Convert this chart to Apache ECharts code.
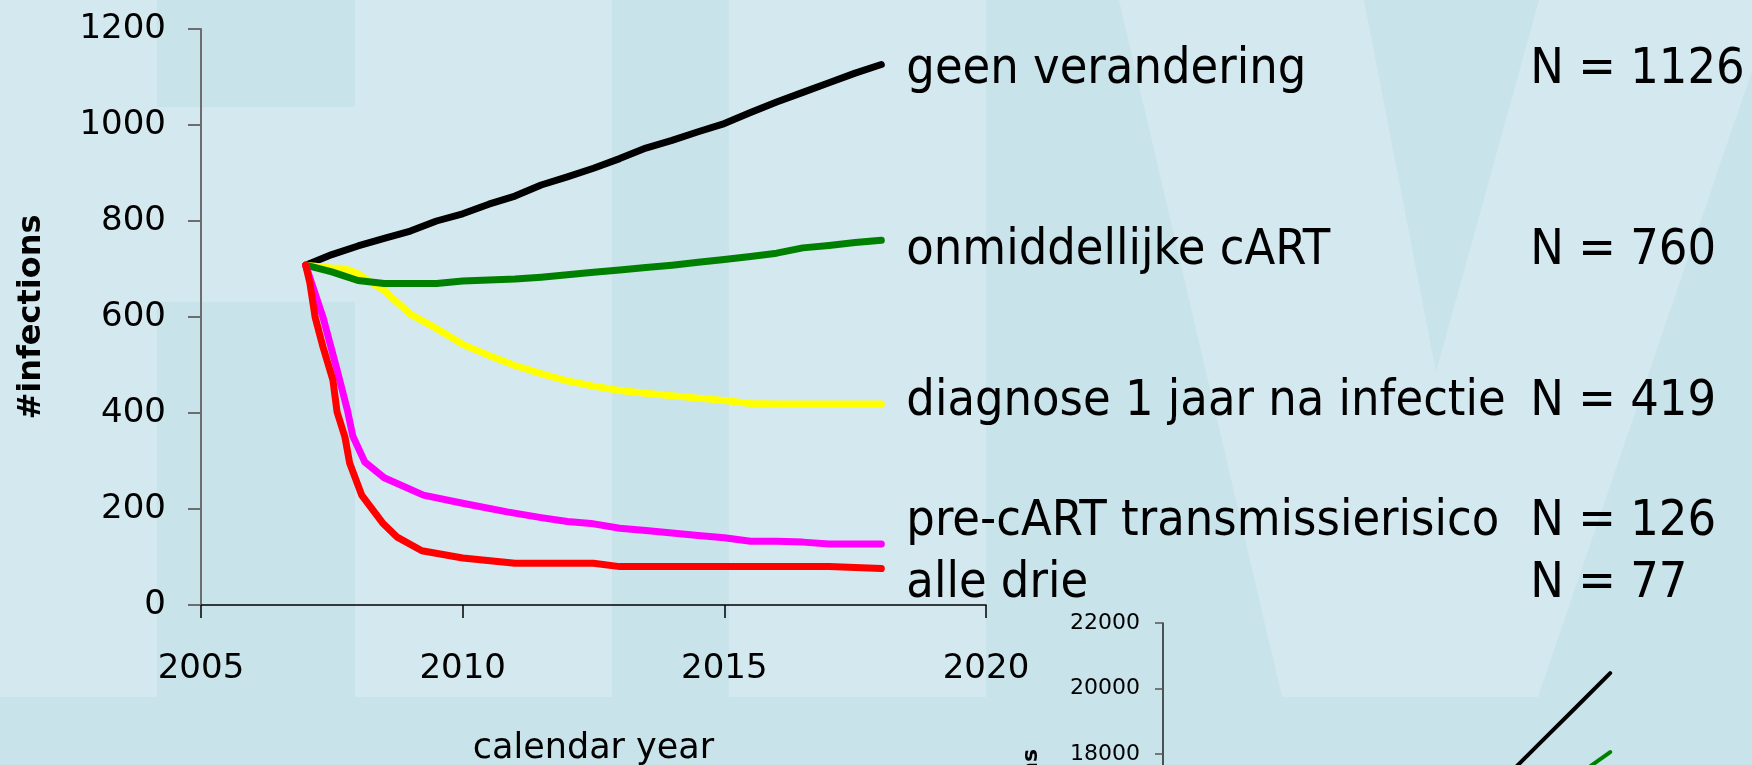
<!DOCTYPE html>
<html>
<head>
<meta charset="utf-8">
<title>#infections scenarios</title>
<script src="https://cdn.jsdelivr.net/npm/echarts@6/dist/echarts.min.js"></script>
<style>
  html, body { margin: 0; padding: 0; }
  #chart { width: 1752px; height: 765px; }
</style>
</head>
<body>
<div id="chart"></div>
<script>
// yearly new infections per scenario, [calendar year, #infections]
const geenVerandering = [[2007, 708], [2007.5, 730], [2008, 748], [2008.5, 764], [2009, 779], [2009.5, 800], [2010, 815],
  [2010.5, 835], [2011, 852], [2011.5, 875], [2012, 892], [2012.5, 910], [2013, 930], [2013.5, 952], [2014, 968],
  [2014.5, 986], [2015, 1003], [2015.5, 1026], [2016, 1048], [2016.5, 1068], [2017, 1088], [2017.5, 1108], [2018, 1126]]
const onmiddellijkeCart = [[2007, 708], [2007.5, 694], [2008, 676], [2008.5, 670], [2009, 670], [2009.5, 670], [2010, 675],
  [2010.5, 677], [2011, 679], [2011.5, 683], [2012, 688], [2012.5, 693], [2013, 698], [2013.5, 703], [2014, 708],
  [2014.5, 714], [2015, 720], [2015.5, 726], [2016, 733], [2016.5, 744], [2017, 749], [2017.5, 755], [2018, 760]]
const diagnoseEenJaar = [[2007, 708], [2007.5, 702], [2007.75, 701], [2008, 690], [2008.5, 655], [2009, 606], [2009.5, 576],
  [2010, 543], [2010.5, 520], [2011, 499], [2011.5, 482], [2012, 467], [2012.5, 456], [2013, 447], [2013.5, 441],
  [2014, 436], [2014.5, 431], [2015, 426], [2015.5, 420], [2016, 419], [2017, 419], [2018, 419]]
const preCartRisico = [[2007, 708], [2007.33, 600], [2007.6, 490], [2007.8, 405], [2007.9, 352], [2008.13, 298], [2008.5, 265],
  [2009.25, 229], [2010, 212], [2010.85, 194], [2011.5, 182], [2012, 174], [2012.45, 170], [2013, 160], [2013.5, 155],
  [2014, 150], [2014.5, 145], [2015, 140], [2015.5, 133], [2016, 133], [2016.5, 131], [2017, 127], [2018, 127]]
const alleDrie = [[2007, 708], [2007.08, 671], [2007.18, 600], [2007.33, 538], [2007.52, 469], [2007.6, 402], [2007.75, 350],
  [2007.84, 296], [2008.07, 229], [2008.47, 171], [2008.74, 142], [2009.22, 113], [2010, 98], [2011, 87], [2012, 87],
  [2012.5, 87], [2013, 80], [2014, 80], [2015, 80], [2016, 80], [2017, 80], [2018, 76]]

const scenarioNames = ['geen verandering', 'onmiddellijke cART', 'diagnose 1 jaar na infectie',
  'pre-cART transmissierisico', 'alle drie']
const finalN = [1126, 760, 419, 126, 77]

// cumulative infections (small panel, bottom right)
const cumGeenVerandering = [[2014, 16290], [2015, 17330], [2016, 18380], [2017, 19420], [2018, 20470]]
const cumOnmiddellijk = [[2015, 15800], [2016, 16560], [2017, 17310], [2018, 18060]]

const yearTicks = [2005, 2020, 5]
const infectionTicks = [0, 1200, 200]
const cumTicks = [10000, 22000, 2000]

const chart = echarts.init(document.getElementById('chart'))

const light = '#d4e8ef'
const dark = '#c9e3ea'
const tickFont = 'DejaVu Sans'
const noteFont = 'DejaVu Sans Condensed'
const plain = v => String(v)

const scenarioData = [geenVerandering, onmiddellijkeCart, diagnoseEenJaar, preCartRisico, alleDrie]
const colors = ['#000000', '#008000', '#ffff00', '#ff00ff', '#ff0000']
const labelShift = [5, 11, -2, -22, 15]
const drawOrder = [0, 2, 1, 3, 4]

const mainSeries = drawOrder.map(i => ({
  name: scenarioNames[i],
  type: 'line',
  xAxisIndex: 0,
  yAxisIndex: 0,
  data: scenarioData[i],
  showSymbol: false,
  symbol: 'none',
  lineStyle: {color: colors[i], width: 7, cap: 'round', join: 'round'},
  endLabel: {
    show: true,
    distance: 25,
    offset: [0, labelShift[i]],
    formatter: `{a|${scenarioNames[i]}}{b|N = ${finalN[i]}}`,
    rich: {
      a: {width: 624, fontFamily: noteFont, fontSize: 50, color: '#000'},
      b: {fontFamily: noteFont, fontSize: 50, color: '#000'}
    }
  }
}))

const insetSeries = [cumGeenVerandering, cumOnmiddellijk].map((d, i) => ({
  type: 'line',
  xAxisIndex: 1,
  yAxisIndex: 1,
  data: d,
  symbol: 'none',
  lineStyle: {color: colors[i], width: 4, cap: 'round'}
}))

const bg = (shape, type) => ({type: type || 'rect', shape: shape, style: {fill: light}, z: -100, silent: true})

const option = {
  animation: false,
  backgroundColor: dark,
  graphic: [
    bg({x: 0, y: 0, width: 157, height: 697}),
    bg({x: 157, y: 107, width: 198, height: 195}),
    bg({x: 355, y: 0, width: 257, height: 697}),
    bg({x: 729, y: 0, width: 257, height: 697}),
    bg({points: [[1119, 0], [1364, 0], [1436, 372], [1539, 0], [1752, 0], [1752, 71], [1538, 697], [1282, 697]]}, 'polygon')
  ],
  grid: [
    {left: 201, top: 29, width: 785, height: 576, outerBoundsMode: 'none'},
    {left: 1163, top: 623, width: 516, height: 393, outerBoundsMode: 'none'}
  ],
  xAxis: [
    {
      gridIndex: 0, type: 'value',
      min: yearTicks[0], max: yearTicks[1], interval: yearTicks[2],
      name: 'calendar year', nameLocation: 'middle', nameGap: 126,
      nameTextStyle: {fontFamily: tickFont, fontSize: 35, color: '#000'},
      axisLine: {lineStyle: {color: '#000', width: 1.5}},
      axisTick: {length: 13, lineStyle: {color: '#000', width: 1.5}},
      axisLabel: {margin: 47, fontFamily: tickFont, fontSize: 34, color: '#000', formatter: plain},
      splitLine: {show: false}
    },
    {
      gridIndex: 1, type: 'value', min: yearTicks[0], max: yearTicks[1], interval: yearTicks[2],
      show: false, splitLine: {show: false}
    }
  ],
  yAxis: [
    {
      gridIndex: 0, type: 'value',
      min: infectionTicks[0], max: infectionTicks[1], interval: infectionTicks[2],
      name: '#infections', nameLocation: 'middle', nameGap: 153, nameRotate: 90,
      nameTextStyle: {fontFamily: tickFont, fontWeight: 'bold', fontSize: 32, color: '#000'},
      axisLine: {show: true, lineStyle: {color: '#6d6d6d', width: 2}},
      axisTick: {show: true, length: 13, lineStyle: {color: '#6d6d6d', width: 2}},
      axisLabel: {margin: 35, fontFamily: tickFont, fontSize: 34, color: '#000', formatter: plain},
      splitLine: {show: false}
    },
    {
      gridIndex: 1, type: 'value',
      min: cumTicks[0], max: cumTicks[1], interval: cumTicks[2],
      name: '#infections', nameLocation: 'middle', nameGap: 121, nameRotate: 90,
      nameTextStyle: {fontFamily: tickFont, fontWeight: 'bold', fontSize: 22, color: '#000'},
      axisLine: {show: true, lineStyle: {color: '#222', width: 1.5}},
      axisTick: {show: true, length: 8, lineStyle: {color: '#555', width: 1.5}},
      axisLabel: {margin: 23, fontFamily: tickFont, fontSize: 22, color: '#000', formatter: plain},
      splitLine: {show: false}
    }
  ],
  series: mainSeries.concat(insetSeries)
}

chart.setOption(option)
</script>
</body>
</html>
